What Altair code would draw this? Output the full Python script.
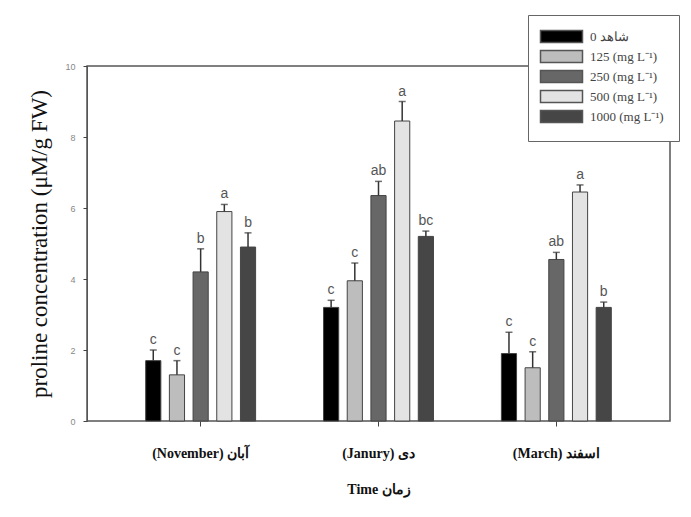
import altair as alt
import pandas as pd

months = ["(November) آبان", "(Janury) دی", "(March) اسفند"]
doses = ["0 شاهد", "125 (mg L⁻¹)", "250 (mg L⁻¹)", "500 (mg L⁻¹)", "1000 (mg L⁻¹)"]
colors = ["#000000", "#bdbdbd", "#676767", "#e3e3e3", "#464646"]

nov_mean = [1.7, 1.3, 4.2, 5.9, 4.9]
nov_err = [0.3, 0.4, 0.65, 0.2, 0.4]
nov_lab = ["c", "c", "b", "a", "b"]
jan_mean = [3.2, 3.95, 6.35, 8.45, 5.2]
jan_err = [0.2, 0.5, 0.4, 0.55, 0.15]
jan_lab = ["c", "c", "ab", "a", "bc"]
mar_mean = [1.9, 1.5, 4.55, 6.45, 3.2]
mar_err = [0.6, 0.45, 0.2, 0.2, 0.15]
mar_lab = ["c", "c", "ab", "a", "b"]

rows = []
for m, means, errs, labs in zip(months, [nov_mean, jan_mean, mar_mean],
                                [nov_err, jan_err, mar_err], [nov_lab, jan_lab, mar_lab]):
    for d, v, e, l in zip(doses, means, errs, labs):
        rows.append({"month": m, "dose": d, "mean": v, "top": v + e, "letter": l})
df = pd.DataFrame(rows)

x = alt.X("month:N", sort=months, title="Time      زمان",
          scale=alt.Scale(paddingInner=0.382, paddingOuter=0.33),
          axis=alt.Axis(labelAngle=0, labelFont="Liberation Serif", labelFontWeight="bold",
                        labelFontSize=14, labelColor="#111", labelPadding=20,
                        tickSize=5, tickColor="#444", domain=False,
                        titleFont="Liberation Serif", titleFontWeight="bold", titleFontSize=14,
                        titleColor="#111", titlePadding=22))
xo = alt.XOffset("dose:N", sort=doses, scale=alt.Scale(paddingInner=0.36, paddingOuter=0))

base = alt.Chart(df).encode(x=x, xOffset=xo)

bars = base.mark_bar(stroke="#444", strokeWidth=1).encode(
    y=alt.Y("mean:Q", scale=alt.Scale(domain=[0, 10]),
            title="proline concentration (μM/g FW)",
            axis=alt.Axis(values=[0, 2, 4, 6, 8, 10], grid=False, tickSize=4,
                          tickColor="#444", domainColor="#555", labelColor="#888",
                          labelFontSize=9, labelPadding=8,
                          titleFont="Liberation Serif", titleFontSize=23,
                          titleColor="#111", titleFontWeight="normal", titlePadding=13)),
    fill=alt.Fill("dose:N", sort=doses, scale=alt.Scale(domain=doses, range=colors),
                  legend=alt.Legend(title=None, orient="none", legendX=441, legendY=-51,
                                    strokeColor="#666", fillColor="white", padding=15,
                                    symbolType="M-4.2,-1.2H4.2V1.2H-4.2Z", symbolSize=100,
                                    symbolStrokeColor="#555", symbolStrokeWidth=1.5,
                                    symbolOffset=12,
                                    labelFont="Liberation Serif", labelFontSize=13,
                                    labelColor="#444", labelOffset=22, rowPadding=1)),
)

err = base.mark_rule(color="#333", strokeWidth=1.5).encode(y="mean:Q", y2="top:Q")
cap = base.mark_tick(color="#333", thickness=1.5, size=7, orient="horizontal").encode(y="top:Q")
txt = base.mark_text(dy=-10, font="Liberation Sans", fontSize=14, color="#555").encode(
    y="top:Q", text="letter:N")

chart = alt.layer(bars, err, cap, txt).properties(
    width=583, height=355,
    autosize=alt.AutoSizeParams(type="none"),
    padding={"left": 79, "top": 58, "right": 13, "bottom": 88},
).configure_view(stroke="#555", strokeWidth=1.5)

chart.save("out.html", embed_options={"renderer": "svg", "actions": False})
